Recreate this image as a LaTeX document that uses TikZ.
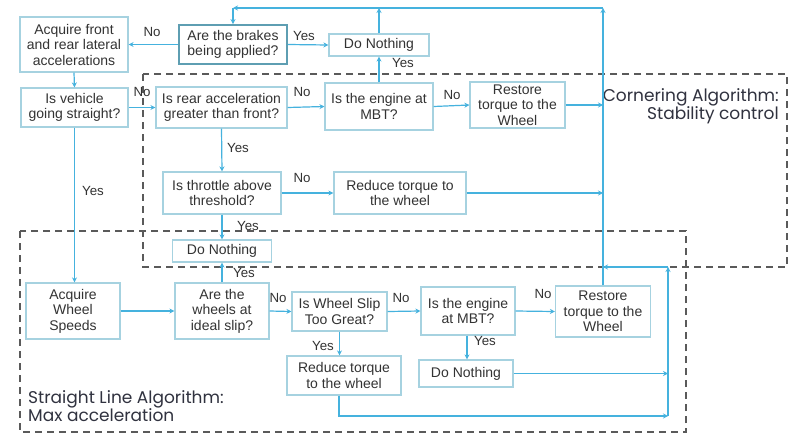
\documentclass[tikz,border=0pt]{standalone}
\usepackage{fontspec}
\setmainfont{Liberation Sans}
\newfontfamily\labfont{Poppins}
\usetikzlibrary{arrows.meta}
\definecolor{conn}{HTML}{45B2DE}
\definecolor{boxc}{HTML}{A6D2E0}
\definecolor{boxdark}{HTML}{5E9EB2}
\definecolor{txt}{HTML}{333333}
\definecolor{dashc}{HTML}{5A5A5A}
\definecolor{labc}{HTML}{30323F}
\tikzset{
  fbox/.style={draw=boxc, line width=1.2pt, fill=white, align=center, inner sep=1pt,
    text=txt, font=\fontsize{14}{15.5}\selectfont},
  fboxdark/.style={fbox, draw=boxdark, line width=1.8pt},
  conline/.style={draw=conn, line width=1.2pt},
  arr/.style={conline, -{Stealth[length=5pt,width=5pt]}},
  lbl/.style={text=txt, font=\fontsize{13.3}{15}\selectfont, inner sep=0pt},
  region/.style={draw=dashc, line width=1.8pt, dash pattern=on 7pt off 5pt},
  biglab/.style={text=labc, font=\labfont\fontsize{17}{18}\selectfont, inner sep=0pt}
}
\begin{document}
\begin{tikzpicture}[x=1pt,y=-1pt]
\useasboundingbox (0,0) rectangle (800,440);
\fill[white] (0,0) rectangle (800,440);
% regions
\draw[region] (143,74) rectangle (787,267);
\draw[region] (20,231) rectangle (686,432);
\node[biglab, anchor=base east] (cl1) at (779,101) {Cornering Algorithm:};
\node[biglab, anchor=base east] (cl2) at (779,119) {Stability control};
\node[biglab, anchor=base west] (sl1) at (28,403) {Straight Line Algorithm:};
\node[biglab, anchor=base west] (sl2) at (28,421) {Max acceleration};
% nodes
\node[fbox, minimum width=108pt, minimum height=55pt] (acq) at (74,44.5) {Acquire front\\and rear lateral\\accelerations};
\node[fboxdark, minimum width=108pt, minimum height=39pt] (brk) at (233,44.5) {Are the brakes\\being applied?};
\node[fbox, minimum width=100pt, minimum height=22pt] (dn1) at (379,45) {Do Nothing};
\node[fbox, minimum width=107pt, minimum height=39pt] (veh) at (74.5,107.5) {Is vehicle\\going straight?};
\node[fbox, minimum width=131pt, minimum height=41pt] (rear) at (221.5,107.5) {Is rear acceleration\\greater than front?};
\node[fbox, minimum width=108pt, minimum height=47pt] (eng1) at (379,106.5) {Is the engine at\\MBT?};
\node[fbox, minimum width=95pt, minimum height=46pt] (rst1) at (517.5,105) {Restore\\torque to the\\Wheel};
\node[fbox, minimum width=118pt, minimum height=42pt] (thr) at (222,193) {Is throttle above\\threshold?};
\node[fbox, minimum width=132pt, minimum height=42pt] (red1) at (400,193) {Reduce torque to\\the wheel};
\node[fbox, minimum width=99pt, minimum height=22pt] (dn2) at (222,251) {Do Nothing};
\node[fbox, minimum width=94pt, minimum height=56pt] (aws) at (73,311) {Acquire\\Wheel\\Speeds};
\node[fbox, minimum width=94pt, minimum height=56pt] (whl) at (222,311) {Are the\\wheels at\\ideal slip?};
\node[fbox, minimum width=95pt, minimum height=39pt] (slip) at (339.5,311.5) {Is Wheel Slip\\Too Great?};
\node[fbox, minimum width=94pt, minimum height=48pt] (eng2) at (468,311) {Is the engine\\at MBT?};
\node[fbox, minimum width=95pt, minimum height=51pt] (rst2) at (603,311.5) {Restore\\torque to the\\Wheel};
\node[fbox, minimum width=94pt, minimum height=27pt] (dn3) at (466,373.5) {Do Nothing};
\node[fbox, minimum width=114pt, minimum height=39pt] (red2) at (344,375.5) {Reduce torque\\to the wheel};
% coordinates
\coordinate (sptop) at (603,8);
\coordinate (tl) at (233,8);
\coordinate (spmid) at (603,267);
\coordinate (coltop) at (668,267);
\coordinate (colbot) at (668,416);
\coordinate (r2b) at (339,416);
% connectors
\draw[arr] (brk.west) -- (acq.east);
\draw[arr] (brk.east) -- (dn1.west);
\draw[arr] (acq.south) -- (veh.north);
\draw[arr] (veh.east) -- (rear.west);
\draw[arr] (rear.east) -- (eng1.west);
\draw[arr] (eng1.north) -- (dn1.south);
\draw[arr] (dn1.north) -- (dn1.north |- sptop);
\draw[arr] (eng1.east) -- (rst1.west);
\draw[arr] (rst1.east) -- (rst1.east -| sptop);
\draw[arr] (rear.south) -- (thr.north);
\draw[arr] (thr.east) -- (red1.west);
\draw[arr] (red1.east) -- (red1.east -| sptop);
\draw[arr] (thr.south) -- (dn2.north);
\draw[arr] (whl.north) -- (dn2.south);
\draw[arr] (veh.south) -- (veh.south |- aws.north);
\draw[arr] (aws.east) -- (whl.west);
\draw[arr] (whl.east) -- (slip.west);
\draw[arr] (slip.east) -- (eng2.west);
\draw[arr] (eng2.east) -- (rst2.west);
\draw[arr] (slip.south) -- (slip.south |- red2.north);
\draw[arr] (eng2.south -| dn3.north) ++(1,0) coordinate (e2s) -- (e2s |- dn3.north);
\draw[arr] (dn3.east) -- (dn3.east -| colbot);
\draw[arr] (red2.south -| r2b) -- (r2b) -- (colbot);
\draw[arr] (colbot) -- (coltop);
\draw[arr] (coltop) -- (spmid);
\draw[arr] (rst2.north) -- (sptop);
\draw[arr] (sptop) -- (tl);
\draw[arr] (tl) -- (brk.north);
% labels
\node[lbl] (l1) at (152,32) {No};
\node[lbl] (l2) at (304,36) {Yes};
\node[lbl] (l3) at (403,63) {Yes};
\node[lbl] (l4) at (142,92) {No};
\node[lbl] (l5) at (302,92) {No};
\node[lbl] (l6) at (452,95) {No};
\node[lbl] (l7) at (238,148) {Yes};
\node[lbl] (l8) at (302,178) {No};
\node[lbl] (l9) at (248,226) {Yes};
\node[lbl] (l10) at (244,273) {Yes};
\node[lbl] (l11) at (93,191) {Yes};
\node[lbl] (l12) at (278,298) {No};
\node[lbl] (l13) at (401,298) {No};
\node[lbl] (l14) at (543,294) {No};
\node[lbl] (l15) at (323,346) {Yes};
\node[lbl] (l16) at (485,341) {Yes};
\end{tikzpicture}
\end{document}
